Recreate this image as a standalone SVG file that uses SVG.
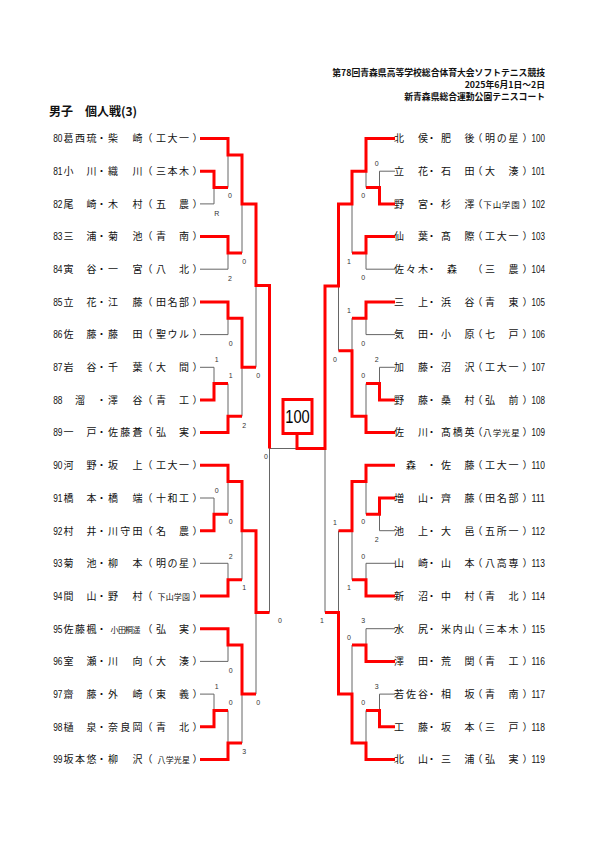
<svg xmlns="http://www.w3.org/2000/svg" width="595" height="842" viewBox="0 0 595 842">
<style>
.n{font-family:"Noto Sans CJK JP","Noto Sans CJK SC",sans-serif;font-size:10px;text-anchor:middle;fill:#111}
.s8{font-size:8px}
.s85{font-size:8.5px}
.s75{font-size:7.5px}
.numL{font-family:"Liberation Sans",sans-serif;font-size:10.5px;text-anchor:end;fill:#111}
.numR{font-family:"Liberation Sans",sans-serif;font-size:10.5px;text-anchor:start;fill:#111}
.sc{font-family:"Liberation Sans",sans-serif;font-size:7px;text-anchor:middle;fill:#333}
.hd{font-family:"Noto Sans CJK JP","Noto Sans CJK SC",sans-serif;font-size:8.8px;font-weight:bold;text-anchor:end;fill:#111}
.tt{font-family:"Noto Sans CJK JP","Noto Sans CJK SC",sans-serif;font-size:12px;font-weight:bold;fill:#111}
.g{fill:none;stroke:#666;stroke-width:1}
.r{fill:none;stroke:#f00;stroke-width:3}
</style>
<rect width="595" height="842" fill="#fff"/>
<g id="header">
<text class="hd" x="545" y="76">第78回青森県高等学校総合体育大会ソフトテニス競技</text>
<text class="hd" x="545" y="88">2025年6月1日～2日</text>
<text class="hd" x="545" y="100">新青森県総合運動公園テニスコート</text>
<text class="tt" x="49" y="116">男子</text>
<text class="tt" x="85" y="116">個人戦(3)</text>
</g>
<g id="connectors">
<path class="g" d="M200 138.5H228M200 171.2H214M200 203.9H214M200 236.5H228M200 269.2H228M200 301.9H228M200 334.6H228M200 367.3H214M200 399.9H214M200 432.6H228M214 171.2V203.9M214 367.3V399.9M228 138.5V187.5M228 236.5V269.2M228 301.9V334.6M228 383.6V432.6M242 155V252.9M242 318.2V416.3M256 204V367.3M269.5 285.6V612.4"/>
<path class="g" d="M200 465.3H228M200 498H214M200 530.7H214M200 563.3H228M200 596H228M200 628.7H228M200 661.4H228M200 694.1H214M200 726.7H214M200 759.4H228M214 498V530.7M214 694.1V726.7M228 465.3V514.3M228 563.3V596M228 628.7V661.4M228 710.4V759.4M242 481.6V579.7M242 645V743.1M256 530.7V694.1"/>
<path class="g" d="M269.5 448.5H325"/>
<path class="g" d="M395 138.5H366M395 171.2H379.5M395 203.9H379.5M395 236.5H366M395 269.2H366M395 301.9H366M395 334.6H366M395 367.3H379.5M395 399.9H379.5M395 432.6H366M379.5 171.2V203.9M379.5 367.3V399.9M366 138.5V187.5M366 236.5V269.2M366 301.9V334.6M366 383.6V432.6M352 171.2V252.9M352 318.2V416.3M338.5 204V350.7M325 286V612.4"/>
<path class="g" d="M395 465.3H366M395 498H379.5M395 530.7H379.5M395 563.3H366M395 596H366M395 628.7H366M395 661.4H366M395 694.1H379.5M395 726.7H379.5M395 759.4H366M379.5 498V530.7M379.5 694.1V726.7M366 465.3V514.3M366 563.3V596M366 628.7V661.4M366 710.4V759.4M352 481.6V579.7M352 645V743.1M338.5 530.7V694.1"/>
<path class="r" d="M200 138.5H228V155H242V204H256V285.6H269.5V448.5"/>
<path class="r" d="M200 171.2H214V187.5H228"/>
<path class="r" d="M200 236.5H228V252.9H242"/>
<path class="r" d="M200 301.9H228V318.2H242V367.3H256"/>
<path class="r" d="M200 399.9H214V383.6H228"/>
<path class="r" d="M200 432.6H228V416.3H242"/>
<path class="r" d="M200 465.3H228V481.6H242V530.7H256V612.4H269.5"/>
<path class="r" d="M200 530.7H214V514.3H228"/>
<path class="r" d="M200 596H228V579.7H242"/>
<path class="r" d="M200 628.7H228V645H242V694.1H256"/>
<path class="r" d="M200 726.7H214V710.4H228"/>
<path class="r" d="M200 759.4H228V743.1H242"/>
<path class="r" d="M395 138.5H366V171.2H352V204H338.5V286H325V448.5H297V433.5"/>
<path class="r" d="M395 203.9H379.5V187.5H366"/>
<path class="r" d="M395 236.5H366V252.9H352"/>
<path class="r" d="M395 301.9H366V318.2H352"/>
<path class="r" d="M395 399.9H379.5V383.6H366"/>
<path class="r" d="M395 432.6H366V416.3H352V350.7H338.5"/>
<path class="r" d="M395 465.3H366V481.6H352V530.7H338.5"/>
<path class="r" d="M395 498H379.5V514.3H366"/>
<path class="r" d="M395 596H366V579.7H352"/>
<path class="r" d="M395 661.4H366V645H352"/>
<path class="r" d="M395 726.7H379.5V710.4H366"/>
<path class="r" d="M395 759.4H366V743.1H352V694.1H338.5V612.4H325"/>
</g>
<g id="scores">
<text class="sc" x="230" y="198.2">0</text>
<text class="sc" x="216.7" y="215.5">R</text>
<text class="sc" x="244.3" y="264.2">0</text>
<text class="sc" x="230" y="280.8">2</text>
<text class="sc" x="230.7" y="345.8">0</text>
<text class="sc" x="216.7" y="361.8">1</text>
<text class="sc" x="230.7" y="377.5">1</text>
<text class="sc" x="258.3" y="377.5">0</text>
<text class="sc" x="244.3" y="427.5">2</text>
<text class="sc" x="266" y="459.2">0</text>
<text class="sc" x="216.7" y="492.5">0</text>
<text class="sc" x="230.7" y="524.2">0</text>
<text class="sc" x="230.7" y="558.5">2</text>
<text class="sc" x="244.3" y="589.8">1</text>
<text class="sc" x="280" y="623.2">0</text>
<text class="sc" x="230.7" y="672.5">0</text>
<text class="sc" x="216.7" y="689.2">1</text>
<text class="sc" x="230.7" y="705.2">0</text>
<text class="sc" x="258.3" y="704.8">0</text>
<text class="sc" x="244.3" y="754.2">3</text>
<text class="sc" x="376.7" y="165.8">0</text>
<text class="sc" x="363.3" y="198.2">0</text>
<text class="sc" x="349" y="264.2">1</text>
<text class="sc" x="363.3" y="280.2">0</text>
<text class="sc" x="349" y="313.2">1</text>
<text class="sc" x="363.3" y="345.8">0</text>
<text class="sc" x="335" y="361.8">0</text>
<text class="sc" x="376.7" y="361.8">2</text>
<text class="sc" x="363.3" y="378.2">0</text>
<text class="sc" x="335" y="525.2">1</text>
<text class="sc" x="363.3" y="524.2">0</text>
<text class="sc" x="376.7" y="541.8">2</text>
<text class="sc" x="363.3" y="558.5">0</text>
<text class="sc" x="349" y="589.8">1</text>
<text class="sc" x="322" y="623.2">1</text>
<text class="sc" x="363.3" y="623.2">3</text>
<text class="sc" x="349" y="639.8">0</text>
<text class="sc" x="376.7" y="689.2">3</text>
<text class="sc" x="363.3" y="705.2">0</text>
</g>
<g id="final">
<rect x="283" y="399.5" width="29" height="34" fill="#fff" stroke="#f00" stroke-width="3"/>
<text x="297.5" y="423" font-family="Liberation Sans, sans-serif" font-size="18" text-anchor="middle" textLength="24.5" lengthAdjust="spacingAndGlyphs" fill="#000">100</text>
</g>
<g id="p80"><text class="numL" x="62.5" y="142.3" textLength="9.3" lengthAdjust="spacingAndGlyphs">80</text><text class="n" x="68.5 80 91.5 101.5 113 137.5 147.5 161 172.5 184 197.5" y="142.3">葛西琉・柴崎（工大一）</text></g>
<g id="p81"><text class="numL" x="62.5" y="175" textLength="9.3" lengthAdjust="spacingAndGlyphs">81</text><text class="n" x="68.5 91.5 101.5 113 137.5 147.5 161 172.5 184 197.5" y="175">小川・織川（三本木）</text></g>
<g id="p82"><text class="numL" x="62.5" y="207.7" textLength="9.3" lengthAdjust="spacingAndGlyphs">82</text><text class="n" x="68.5 91.5 101.5 113 137.5 147.5 161 184 197.5" y="207.7">尾崎・木村（五農）</text></g>
<g id="p83"><text class="numL" x="62.5" y="240.3" textLength="9.3" lengthAdjust="spacingAndGlyphs">83</text><text class="n" x="68.5 91.5 101.5 113 137.5 147.5 161 184 197.5" y="240.3">三浦・菊池（青南）</text></g>
<g id="p84"><text class="numL" x="62.5" y="273" textLength="9.3" lengthAdjust="spacingAndGlyphs">84</text><text class="n" x="68.5 91.5 101.5 113 137.5 147.5 161 184 197.5" y="273">寅谷・一宮（八北）</text></g>
<g id="p85"><text class="numL" x="62.5" y="305.7" textLength="9.3" lengthAdjust="spacingAndGlyphs">85</text><text class="n" x="68.5 91.5 101.5 113 137.5 147.5 161 172.5 184 197.5" y="305.7">立花・江藤（田名部）</text></g>
<g id="p86"><text class="numL" x="62.5" y="338.4" textLength="9.3" lengthAdjust="spacingAndGlyphs">86</text><text class="n" x="68.5 91.5 101.5 113 137.5 147.5 161 172.5 184 197.5" y="338.4">佐藤・藤田（聖ウル）</text></g>
<g id="p87"><text class="numL" x="62.5" y="371.1" textLength="9.3" lengthAdjust="spacingAndGlyphs">87</text><text class="n" x="68.5 91.5 101.5 113 137.5 147.5 161 184 197.5" y="371.1">岩谷・千葉（大間）</text></g>
<g id="p88"><text class="numL" x="62.5" y="403.7" textLength="9.3" lengthAdjust="spacingAndGlyphs">88</text><text class="n" x="80 101.5 113 137.5 147.5 161 184 197.5" y="403.7">溜・澤谷（青工）</text></g>
<g id="p89"><text class="numL" x="62.5" y="436.4" textLength="9.3" lengthAdjust="spacingAndGlyphs">89</text><text class="n" x="68.5 91.5 101.5 113 125.3 137.5 147.5 161 184 197.5" y="436.4">一戸・佐藤蒼（弘実）</text></g>
<g id="p90"><text class="numL" x="62.5" y="469.1" textLength="9.3" lengthAdjust="spacingAndGlyphs">90</text><text class="n" x="68.5 91.5 101.5 113 137.5 147.5 161 172.5 184 197.5" y="469.1">河野・坂上（工大一）</text></g>
<g id="p91"><text class="numL" x="62.5" y="501.8" textLength="9.3" lengthAdjust="spacingAndGlyphs">91</text><text class="n" x="68.5 91.5 101.5 113 137.5 147.5 161 172.5 184 197.5" y="501.8">橋本・橋端（十和工）</text></g>
<g id="p92"><text class="numL" x="62.5" y="534.5" textLength="9.3" lengthAdjust="spacingAndGlyphs">92</text><text class="n" x="68.5 91.5 101.5 113 125.3 137.5 147.5 161 184 197.5" y="534.5">村井・川守田（名農）</text></g>
<g id="p93"><text class="numL" x="62.5" y="567.1" textLength="9.3" lengthAdjust="spacingAndGlyphs">93</text><text class="n" x="68.5 91.5 101.5 113 137.5 147.5 161 172.5 184 197.5" y="567.1">菊池・柳本（明の星）</text></g>
<g id="p94"><text class="numL" x="62.5" y="599.8" textLength="9.3" lengthAdjust="spacingAndGlyphs">94</text><text class="n" y="599.8"><tspan x="68.5 91.5 101.5 113 137.5 147.5">間山・野村（</tspan><tspan class="s8" x="161.6 169.7 177.8 185.9">下山学園</tspan><tspan x="197.5">）</tspan></text></g>
<g id="p95"><text class="numL" x="62.5" y="632.5" textLength="9.3" lengthAdjust="spacingAndGlyphs">95</text><text class="n" y="632.5"><tspan x="68.5 80 91.5 101.5">佐藤楓・</tspan><tspan class="s8" x="114.6 121.9 129.1 136.4">小田桐遥</tspan><tspan x="147.5 161 184 197.5">（弘実）</tspan></text></g>
<g id="p96"><text class="numL" x="62.5" y="665.2" textLength="9.3" lengthAdjust="spacingAndGlyphs">96</text><text class="n" x="68.5 91.5 101.5 113 137.5 147.5 161 184 197.5" y="665.2">室瀬・川向（大湊）</text></g>
<g id="p97"><text class="numL" x="62.5" y="697.9" textLength="9.3" lengthAdjust="spacingAndGlyphs">97</text><text class="n" x="68.5 91.5 101.5 113 137.5 147.5 161 184 197.5" y="697.9">齋藤・外崎（東義）</text></g>
<g id="p98"><text class="numL" x="62.5" y="730.5" textLength="9.3" lengthAdjust="spacingAndGlyphs">98</text><text class="n" x="68.5 91.5 101.5 113 125.3 137.5 147.5 161 184 197.5" y="730.5">樋泉・奈良岡（青北）</text></g>
<g id="p99"><text class="numL" x="62.5" y="763.2" textLength="9.3" lengthAdjust="spacingAndGlyphs">99</text><text class="n" y="763.2"><tspan x="68.5 80 91.5 101.5 113 137.5 147.5">坂本悠・柳沢（</tspan><tspan class="s8" x="161.6 169.7 177.8 185.9">八学光星</tspan><tspan x="197.5">）</tspan></text></g>
<g id="p100"><text class="n" x="399 423 431.5 446 469.4 477.5 490 501.7 513.4 527.5" y="142.3">北侯・肥後（明の星）</text><text class="numR" x="531.5" y="142.3" textLength="13.5" lengthAdjust="spacingAndGlyphs">100</text></g>
<g id="p101"><text class="n" x="399 423 431.5 446 469.4 477.5 490 513.4 527.5" y="175">立花・石田（大湊）</text><text class="numR" x="531.5" y="175" textLength="13.5" lengthAdjust="spacingAndGlyphs">101</text></g>
<g id="p102"><text class="n" y="207.7"><tspan x="399 423 431.5 446 469.4 477.5">野宮・杉澤（</tspan><tspan class="s85" x="487.6 496.9 506.1 515.4">下山学園</tspan><tspan x="527.5">）</tspan></text><text class="numR" x="531.5" y="207.7" textLength="13.5" lengthAdjust="spacingAndGlyphs">102</text></g>
<g id="p103"><text class="n" x="399 423 431.5 446 469.4 477.5 490 501.7 513.4 527.5" y="240.3">仙葉・髙際（工大一）</text><text class="numR" x="531.5" y="240.3" textLength="13.5" lengthAdjust="spacingAndGlyphs">103</text></g>
<g id="p104"><text class="n" x="399 411 423 431.5 452 477.5 490 513.4 527.5" y="273">佐々木・森（三農）</text><text class="numR" x="531.5" y="273" textLength="13.5" lengthAdjust="spacingAndGlyphs">104</text></g>
<g id="p105"><text class="n" x="399 423 431.5 446 469.4 477.5 490 513.4 527.5" y="305.7">三上・浜谷（青東）</text><text class="numR" x="531.5" y="305.7" textLength="13.5" lengthAdjust="spacingAndGlyphs">105</text></g>
<g id="p106"><text class="n" x="399 423 431.5 446 469.4 477.5 490 513.4 527.5" y="338.4">気田・小原（七戸）</text><text class="numR" x="531.5" y="338.4" textLength="13.5" lengthAdjust="spacingAndGlyphs">106</text></g>
<g id="p107"><text class="n" x="399 423 431.5 446 469.4 477.5 490 501.7 513.4 527.5" y="371.1">加藤・沼沢（工大一）</text><text class="numR" x="531.5" y="371.1" textLength="13.5" lengthAdjust="spacingAndGlyphs">107</text></g>
<g id="p108"><text class="n" x="399 423 431.5 446 469.4 477.5 490 513.4 527.5" y="403.7">野藤・桑村（弘前）</text><text class="numR" x="531.5" y="403.7" textLength="13.5" lengthAdjust="spacingAndGlyphs">108</text></g>
<g id="p109"><text class="n" y="436.4"><tspan x="399 423 431.5 446 457.7 469.4 477.5">佐川・髙橋英（</tspan><tspan class="s85" x="487.6 496.9 506.1 515.4">八学光星</tspan><tspan x="527.5">）</tspan></text><text class="numR" x="531.5" y="436.4" textLength="13.5" lengthAdjust="spacingAndGlyphs">109</text></g>
<g id="p110"><text class="n" x="411 431.5 446 469.4 477.5 490 501.7 513.4 527.5" y="469.1">森・佐藤（工大一）</text><text class="numR" x="531.5" y="469.1" textLength="13.5" lengthAdjust="spacingAndGlyphs">110</text></g>
<g id="p111"><text class="n" x="399 423 431.5 446 469.4 477.5 490 501.7 513.4 527.5" y="501.8">増山・齊藤（田名部）</text><text class="numR" x="531.5" y="501.8" textLength="13.5" lengthAdjust="spacingAndGlyphs">111</text></g>
<g id="p112"><text class="n" x="399 423 431.5 446 469.4 477.5 490 501.7 513.4 527.5" y="534.5">池上・大邑（五所一）</text><text class="numR" x="531.5" y="534.5" textLength="13.5" lengthAdjust="spacingAndGlyphs">112</text></g>
<g id="p113"><text class="n" x="399 423 431.5 446 469.4 477.5 490 501.7 513.4 527.5" y="567.1">山崎・山本（八高専）</text><text class="numR" x="531.5" y="567.1" textLength="13.5" lengthAdjust="spacingAndGlyphs">113</text></g>
<g id="p114"><text class="n" x="399 423 431.5 446 469.4 477.5 490 513.4 527.5" y="599.8">新沼・中村（青北）</text><text class="numR" x="531.5" y="599.8" textLength="13.5" lengthAdjust="spacingAndGlyphs">114</text></g>
<g id="p115"><text class="n" x="399 423 431.5 446 457.7 469.4 477.5 490 501.7 513.4 527.5" y="632.5">水尻・米内山（三本木）</text><text class="numR" x="531.5" y="632.5" textLength="13.5" lengthAdjust="spacingAndGlyphs">115</text></g>
<g id="p116"><text class="n" x="399 423 431.5 446 469.4 477.5 490 513.4 527.5" y="665.2">澤田・荒関（青工）</text><text class="numR" x="531.5" y="665.2" textLength="13.5" lengthAdjust="spacingAndGlyphs">116</text></g>
<g id="p117"><text class="n" x="399 411 423 431.5 446 469.4 477.5 490 513.4 527.5" y="697.9">若佐谷・相坂（青南）</text><text class="numR" x="531.5" y="697.9" textLength="13.5" lengthAdjust="spacingAndGlyphs">117</text></g>
<g id="p118"><text class="n" x="399 423 431.5 446 469.4 477.5 490 513.4 527.5" y="730.5">工藤・坂本（三戸）</text><text class="numR" x="531.5" y="730.5" textLength="13.5" lengthAdjust="spacingAndGlyphs">118</text></g>
<g id="p119"><text class="n" x="399 423 431.5 446 469.4 477.5 490 513.4 527.5" y="763.2">北山・三浦（弘実）</text><text class="numR" x="531.5" y="763.2" textLength="13.5" lengthAdjust="spacingAndGlyphs">119</text></g>
</svg>
